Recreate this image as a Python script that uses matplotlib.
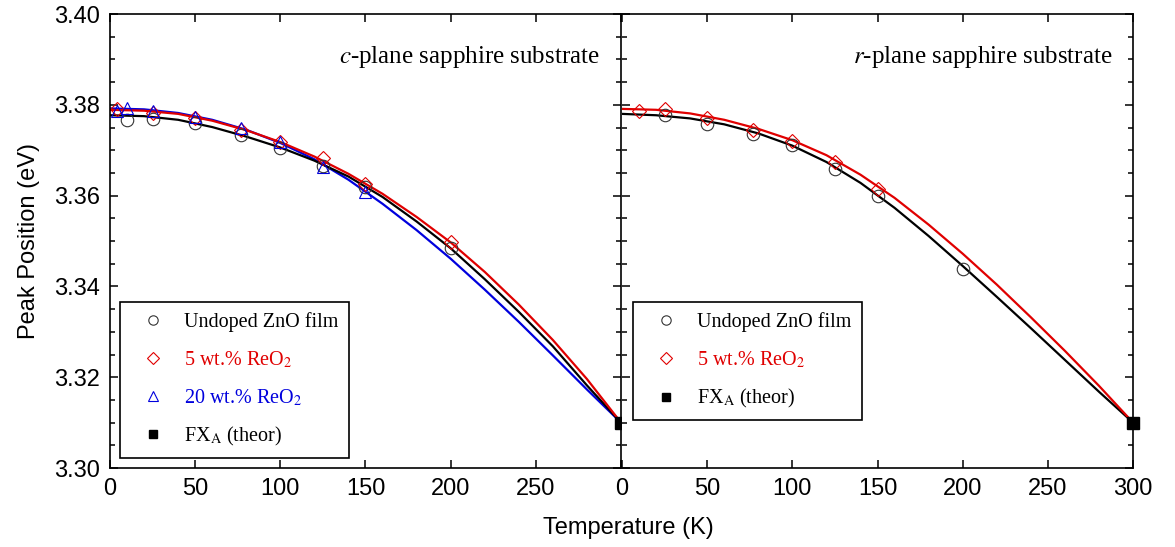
import matplotlib
matplotlib.use("Agg")
import matplotlib.pyplot as plt
from matplotlib.ticker import MultipleLocator

plt.rcParams['mathtext.fontset'] = 'stix'

# fitted curves, sampled every 20 K
curve_T = [0, 20, 40, 60, 80, 100, 120, 140, 160, 180, 200, 220, 240, 260, 280, 300]
c_undoped_fit = [3.3777, 3.3775, 3.3767, 3.3751, 3.3730, 3.3706, 3.3677, 3.3642,
                 3.3597, 3.3543, 3.3484, 3.3416, 3.3344, 3.3268, 3.3182, 3.3100]
c_re5_fit = [3.3789, 3.3787, 3.3780, 3.3765, 3.3744, 3.3718, 3.3686, 3.3648,
             3.3604, 3.3553, 3.3497, 3.3432, 3.3360, 3.3282, 3.3196, 3.3100]
c_re20_fit = [3.3792, 3.3790, 3.3782, 3.3767, 3.3745, 3.3716, 3.3680, 3.3635,
              3.3582, 3.3524, 3.3461, 3.3393, 3.3322, 3.3248, 3.3173, 3.3100]
r_undoped_fit = [3.3780, 3.3777, 3.3770, 3.3757, 3.3737, 3.3710, 3.3674, 3.3628,
                 3.3573, 3.3511, 3.3445, 3.3377, 3.3308, 3.3238, 3.3168, 3.3100]
r_re5_fit = [3.3791, 3.3789, 3.3781, 3.3767, 3.3747, 3.3722, 3.3689, 3.3646,
             3.3595, 3.3536, 3.3472, 3.3404, 3.3332, 3.3258, 3.3181, 3.3100]

# measured points, c-plane
c_undoped_T = [10, 25, 50, 77, 100, 125, 150, 200]
c_undoped_E = [3.3766, 3.3769, 3.3759, 3.3734, 3.3704, 3.3666, 3.3620, 3.3485]
c_re5_T = [4, 25, 50, 77, 100, 125, 150, 200]
c_re5_E = [3.3790, 3.3782, 3.3772, 3.3744, 3.3717, 3.3682, 3.3626, 3.3497]
c_re20_T = [4, 10, 25, 50, 77, 100, 125, 150]
c_re20_E = [3.3786, 3.3794, 3.3787, 3.3774, 3.3748, 3.3719, 3.3664, 3.3609]

# measured points, r-plane
r_undoped_T = [25, 50, 77, 100, 125, 150, 200]
r_undoped_E = [3.3777, 3.3758, 3.3736, 3.3712, 3.3659, 3.3600, 3.3439]
r_re5_T = [10, 25, 50, 77, 100, 125, 150]
r_re5_E = [3.3787, 3.3790, 3.3770, 3.3744, 3.3721, 3.3675, 3.3615]

theor_T = [300]
theor_E = [3.310]

RED = '#e00000'
BLUE = '#0000dd'
TICKFONT = 17

fig = plt.figure(figsize=(11.75, 5.47), dpi=100)
ax1 = fig.add_axes([0.0936, 0.1444, 0.4349, 0.83])
ax2 = fig.add_axes([0.5294, 0.1444, 0.4349, 0.83])

mk = dict(linestyle='none', markersize=9, markerfacecolor='none', markeredgewidth=0.8)


def style(ax):
    ax.set_xlim(0, 300)
    ax.set_ylim(3.30, 3.40)
    ax.xaxis.set_major_locator(MultipleLocator(50))
    ax.yaxis.set_major_locator(MultipleLocator(0.02))
    ax.yaxis.set_minor_locator(MultipleLocator(0.005))
    ax.tick_params(which='both', direction='in', top=True, right=True, width=1.1,
                   labelsize=TICKFONT, pad=7)
    ax.tick_params(which='major', length=6)
    ax.tick_params(which='minor', length=3.5)
    for s in ax.spines.values():
        s.set_linewidth(1.2)


# left: c-plane
ax1.plot(curve_T, c_re20_fit, color=BLUE, lw=1.6)
ax1.plot(curve_T, c_undoped_fit, color='black', lw=1.6)
ax1.plot(curve_T, c_re5_fit, color=RED, lw=1.6)
h1 = ax1.plot(c_undoped_T, c_undoped_E, marker='o', markeredgecolor='#333333', **mk)[0]
h2 = ax1.plot(c_re5_T, c_re5_E, marker='D', markeredgecolor=RED,
              **{**mk, 'markersize': 7.5})[0]
h3 = ax1.plot(c_re20_T, c_re20_E, marker='^', markeredgecolor=BLUE, **mk)[0]
h4 = ax1.plot(theor_T, theor_E, marker='s', color='black', linestyle='none',
              markersize=8, clip_on=False, zorder=5)[0]
style(ax1)
ax1.set_xticks([0, 50, 100, 150, 200, 250, 300])
ax1.set_xticklabels(['0', '50', '100', '150', '200', '250', ''],
                    family='Liberation Sans', fontsize=TICKFONT)
ax1.set_yticks([3.30, 3.32, 3.34, 3.36, 3.38, 3.40])
ax1.set_yticklabels(['3.30', '3.32', '3.34', '3.36', '3.38', '3.40'],
                    family='Liberation Sans', fontsize=TICKFONT)
ax1.set_ylabel('Peak Position (eV)', family='Liberation Sans', fontsize=17, labelpad=10)
ax1.text(0.959, 0.905, r'$\it{c}$-plane sapphire substrate', transform=ax1.transAxes,
         ha='right', va='center', family='Liberation Serif', fontsize=18)

leg_kw = dict(loc='upper left', fancybox=False, edgecolor='black', framealpha=1,
              borderpad=0.5, labelspacing=0.85, handlelength=2.3, handletextpad=0.4,
              markerscale=0.75, borderaxespad=0,
              prop={'family': 'Liberation Serif', 'size': 14.5})

leg1 = ax1.legend([h1, h2, h3, h4],
                  ['Undoped ZnO film', '5 wt.% ReO$_2$', '20 wt.% ReO$_2$',
                   'FX$_\\mathrm{A}$ (theor)'],
                  bbox_to_anchor=(0.0196, 0.365), **leg_kw)
leg1.get_frame().set_linewidth(1.2)
for t, c in zip(leg1.get_texts(), ['black', RED, BLUE, 'black']):
    t.set_color(c)

# right: r-plane
ax2.plot(curve_T, r_undoped_fit, color='black', lw=1.6)
ax2.plot(curve_T, r_re5_fit, color=RED, lw=1.6)
g1 = ax2.plot(r_undoped_T, r_undoped_E, marker='o', markeredgecolor='#333333', **mk)[0]
g2 = ax2.plot(r_re5_T, r_re5_E, marker='D', markeredgecolor=RED,
              **{**mk, 'markersize': 7.5})[0]
g3 = ax2.plot(theor_T, theor_E, marker='s', color='black', linestyle='none',
              markersize=8, clip_on=False, zorder=5)[0]
style(ax2)
ax2.spines['left'].set_visible(False)
ax2.set_xticks([0, 50, 100, 150, 200, 250, 300])
ax2.set_xticklabels(['0', '50', '100', '150', '200', '250', '300'],
                    family='Liberation Sans', fontsize=TICKFONT)
ax2.set_yticks([3.30, 3.32, 3.34, 3.36, 3.38, 3.40])
ax2.set_yticklabels([])
ax2.text(0.959, 0.905, r'$\it{r}$-plane sapphire substrate', transform=ax2.transAxes,
         ha='right', va='center', family='Liberation Serif', fontsize=18)

leg2 = ax2.legend([g1, g2, g3],
                  ['Undoped ZnO film', '5 wt.% ReO$_2$', 'FX$_\\mathrm{A}$ (theor)'],
                  bbox_to_anchor=(0.0215, 0.365), **leg_kw)
leg2.get_frame().set_linewidth(1.2)
for t, c in zip(leg2.get_texts(), ['black', RED, 'black']):
    t.set_color(c)

fig.text(0.535, 0.035, 'Temperature (K)', ha='center', va='center',
         family='Liberation Sans', fontsize=17)

fig.savefig('out.png', dpi=100)
